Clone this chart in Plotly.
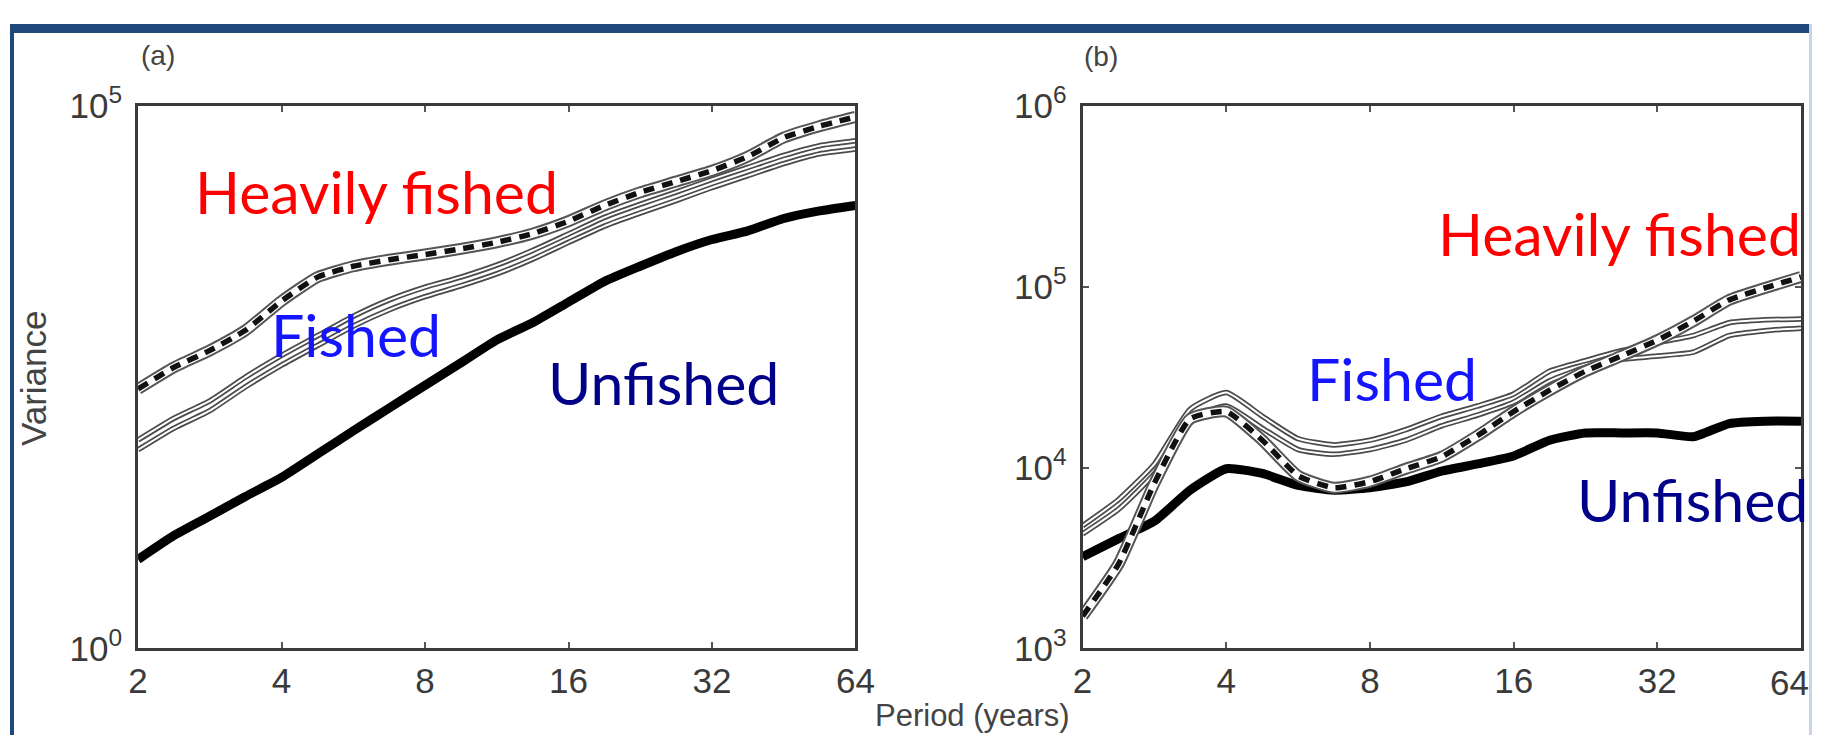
import plotly.graph_objects as go

W, H = 1831, 754
# The page is photographed with the plotting surface at about 1801x715 px,
# starting at (9, 21); positions below are target pixel positions mapped onto it.
PX0, PW, PY0, PH = 9.0, 1801.0, 21.0, 715.0


def fx(px):
    return (px - PX0) / PW


def fy(py):
    return 1 - (py - PY0) / PH


periods = [2, 2.38, 2.83, 3.36, 4, 4.76, 5.66, 6.73, 8, 9.51, 11.3, 13.45,
           16, 19.03, 22.6, 26.9, 32, 38.05, 45.25, 53.8, 64]

# Panel (a)
unfished_a = [6.61, 11.0, 16.6, 25.1, 37.6, 61.7, 101, 164, 265, 427, 692, 1000,
              1549, 2399, 3311, 4508, 5834, 7015, 9120, 10715, 12023]
heavy_a = [245.5, 389, 556, 851, 1585, 2630, 3311, 3802, 4246, 4786, 5495, 6607,
           8610, 12023, 15849, 19953, 25119, 33884, 50699, 64565, 78524]
fished_hi_a = [83.2, 132, 191, 316, 501, 759, 1148, 1622, 2123, 2630, 3388, 4624,
               6561, 9333, 12303, 15959, 20893, 26915, 34674, 42658, 47315]
fished_lo_a = [67.6, 107, 155, 257, 407, 617, 933, 1318, 1738, 2188, 2818, 3846,
               5495, 7762, 10233, 13335, 17579, 22646, 29174, 35892, 39811]

# Panel (b)
unfished_b = [3214, 4046, 5058, 7499, 9840, 9268, 7962, 7499, 7727, 8318, 9550, 10471,
              11588, 14158, 15524, 15524, 15524, 14791, 17498, 18030, 18030]
heavy_b = [1510, 2938, 8222, 18578, 20370, 14158, 8995, 7727, 8356, 9840, 11455, 15031,
           20370, 26730, 34041, 41305, 50466, 64269, 84333, 98175, 112980]
fished_hi_b = [4764, 6653, 10471, 20989, 25942, 19187, 14421, 13335, 14158, 16181, 19187, 21878,
               25468, 34041, 38905, 44157, 48978, 53580, 63096, 65464, 66222]
fished_lo_b = [4295, 5888, 9268, 18578, 21878, 16482, 12560, 11830, 12560, 14158, 16982, 19498,
               22961, 30130, 35727, 39628, 41305, 43351, 53580, 57016, 58749]

x_ticks = [2, 4, 8, 16, 32, 64]
x_ticktext = ["2", "4", "8", "16", "32", "64"]
# last label of panel (b) sits at the page edge; it is drawn as a separate text
x_ticktext_b = ["2", "4", "8", "16", "32", ""]
y_ticks_a = [1, 1e5]
y_ticktext_a = ["10<sup>0</sup>", "10<sup>5</sup>"]
y_ticks_b = [1e3, 1e4, 1e5, 1e6]
y_ticktext_b = ["10<sup>3</sup>", "10<sup>4</sup>", "10<sup>5</sup>", "10<sup>6</sup>"]

fig = go.Figure()


def line(x, y, xa, ya, color, width, dash="solid"):
    fig.add_trace(go.Scatter(x=x, y=y, xaxis=xa, yaxis=ya, mode="lines",
                             line=dict(color=color, width=width, dash=dash,
                                       shape="spline", smoothing=0.5),
                             hoverinfo="skip", showlegend=False))


for xa, ya, unf, hv, fh, fl in [("x", "y", unfished_a, heavy_a, fished_hi_a, fished_lo_a),
                                ("x2", "y2", unfished_b, heavy_b, fished_hi_b, fished_lo_b)]:
    # fished: double thin outlined lines
    for f in (fh, fl):
        line(periods, f, xa, ya, "#4a4a4a", 5.5)
        line(periods, f, xa, ya, "white", 2)
    # unfished: thick black
    line(periods, unf, xa, ya, "black", 9)
    # heavily fished: outlined dashed band
    line(periods, hv, xa, ya, "#555555", 12)
    line(periods, hv, xa, ya, "white", 8)
    line(periods, hv, xa, ya, "#111111", 5.5, dash="11px,8px")

tick_font = dict(family="Liberation Sans, Arial, sans-serif", size=35, color="#3a3a3a")
axis_common = dict(type="log", showgrid=False, zeroline=False, showline=True,
                   linecolor="#3a3a3a", linewidth=3, mirror="ticks", ticks="inside",
                   ticklen=6, tickwidth=2, tickcolor="#555555", tickfont=tick_font)

y_dom = [fy(649), fy(103)]
fig.update_layout(
    width=W, height=H, autosize=False, margin=dict(l=0, r=0, t=0, b=0, pad=0),
    paper_bgcolor="white", plot_bgcolor="white",
    xaxis=dict(domain=[fx(137), fx(854)], range=[0.30103, 1.80618], anchor="y",
               tickvals=x_ticks, ticktext=x_ticktext, ticklabelstandoff=0, **axis_common),
    yaxis=dict(domain=y_dom, range=[0, 5], anchor="x",
               tickvals=y_ticks_a, ticktext=y_ticktext_a, ticklabelstandoff=6, **axis_common),
    xaxis2=dict(domain=[fx(1081), fx(1799)], range=[0.30103, 1.80618], anchor="y2",
                tickvals=x_ticks, ticktext=x_ticktext_b, ticklabelstandoff=0, **axis_common),
    yaxis2=dict(domain=y_dom, range=[3, 6], anchor="x2",
                tickvals=y_ticks_b, ticktext=y_ticktext_b, ticklabelstandoff=6, **axis_common),
)

# slide frame decoration (dark blue top bar and left edge, light right edge)
fig.add_shape(type="rect", xref="paper", yref="paper", x0=0, x1=1, y0=1 - 9 / PH, y1=1,
              fillcolor="#1F497D", line_width=0, layer="above")
fig.add_shape(type="rect", xref="paper", yref="paper", x0=0, x1=4 / PW, y0=0, y1=1,
              fillcolor="#1F497D", line_width=0, layer="above")
fig.add_shape(type="rect", xref="paper", yref="paper", x0=1 - 3 / PW, x1=1, y0=0, y1=1,
              fillcolor="#c9d5e6", line_width=0, layer="above")


def px_ann(text, x, y, size, color, xanchor="center", yanchor="middle",
           family="Lato, sans-serif", angle=0):
    fig.add_annotation(text=text, xref="paper", yref="paper", x=fx(x), y=fy(y),
                       xanchor=xanchor, yanchor=yanchor, showarrow=False, textangle=angle,
                       font=dict(family=family, size=size, color=color))


gray_font = "Liberation Sans, Arial, sans-serif"
px_ann("(a)", 157, 53, 28, "#444444", family=gray_font)
px_ann("(b)", 1099, 54, 28, "#444444", family=gray_font)
px_ann("Variance", 32, 377, 35, "#444444", family=gray_font, angle=-90)
px_ann("Period (years)", 971, 736, 31, "#444444", yanchor="bottom", family=gray_font)
px_ann("64", 1809, 683, 35, "#3a3a3a", xanchor="right", family=gray_font)

px_ann("Heavily fished", 192, 189, 59, "#FF0000", xanchor="left")
px_ann("Fished", 268, 333, 59, "#1414FF", xanchor="left")
px_ann("Unfished", 545, 382, 59, "#000088", xanchor="left")
px_ann("Heavily fished", 1801, 232, 59, "#FF0000", xanchor="right")
px_ann("Fished", 1303, 377, 59, "#1414FF", xanchor="left")
px_ann("Unfished", 1808, 499, 59, "#000088", xanchor="right")

fig.write_html("out.html")
